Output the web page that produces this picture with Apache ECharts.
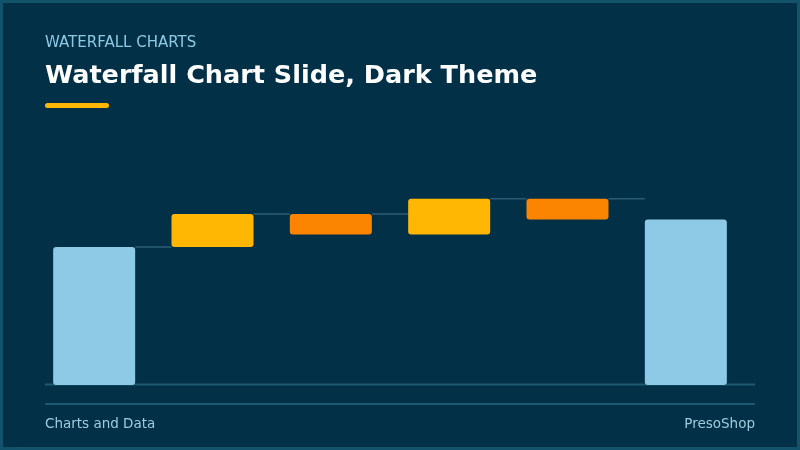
<!DOCTYPE html>
<html>
  <head>
    <meta charset="utf-8" />
    <title>Waterfall Chart Slide, Dark Theme</title>
    <script src="https://cdn.jsdelivr.net/npm/echarts@6/dist/echarts.min.js"></script>
    <style>
      html, body { margin: 0; padding: 0; background: #023047; }
      #main { width: 800px; height: 450px; }
    </style>
  </head>
  <body>
    <div id="main"></div>
  </body>
  <script>
    // waterfall data
    var categories = ['Start', 'Step 1', 'Step 2', 'Step 3', 'Step 4', 'End']
    var startValue = 100
    var changes = [24, -15, 26, -15]
    var endValue = 120

    var BLUE = '#8ecae6'
    var YELLOW = '#ffb703'
    var ORANGE = '#fb8500'
    var FONT = '"DejaVu Sans", Inter, sans-serif'

    // build [index, low, high, color] rows
    var barData = []
    var linkData = []
    var level = startValue
    barData.push([0, 0, startValue, BLUE])
    for (var i = 0; i < changes.length; i++) {
      var next = level + changes[i]
      barData.push([i + 1, Math.min(level, next), Math.max(level, next), changes[i] >= 0 ? YELLOW : ORANGE])
      level = next
    }
    barData.push([categories.length - 1, 0, endValue, BLUE])
    // connectors sit at the top of each bar
    for (var j = 0; j < barData.length - 1; j++) {
      linkData.push([j, barData[j][2]])
    }

    var BAR_W = 82

    var chart = echarts.init(document.getElementById('main'))
    var option = {
      backgroundColor: '#023047',
      animation: false,
      grid: { left: 35, right: 55, top: 178, bottom: 65 },
      xAxis: {
        type: 'category',
        data: categories,
        axisLine: { show: false },
        axisTick: { show: false },
        axisLabel: { show: false },
      },
      yAxis: {
        type: 'value',
        min: 0,
        max: 150,
        splitLine: { show: false },
        axisLabel: { show: false },
        axisLine: { show: false },
        axisTick: { show: false },
      },
      graphic: [
        {
          type: 'rect',
          shape: { x: 1.5, y: 1.5, width: 797, height: 447 },
          style: { fill: 'transparent', stroke: '#12536b', lineWidth: 3 },
          silent: true,
        },
        {
          type: 'text', left: 45, top: 36,
          style: { text: 'WATERFALL CHARTS', fill: '#8ecae6', font: '400 15px ' + FONT },
        },
        {
          type: 'text', left: 45, top: 63,
          style: { text: 'Waterfall Chart Slide, Dark Theme', fill: '#ffffff', font: '700 25.5px ' + FONT },
        },
        {
          type: 'rect',
          shape: { x: 45, y: 103, width: 64, height: 5, r: 2.5 },
          style: { fill: '#ffb703' },
        },
        {
          type: 'line', z: -1,
          shape: { x1: 45, y1: 384.5, x2: 755, y2: 384.5 },
          style: { stroke: '#1c5a73', lineWidth: 2 },
        },
        {
          type: 'line',
          shape: { x1: 45, y1: 404, x2: 755, y2: 404 },
          style: { stroke: '#1c5a73', lineWidth: 2 },
        },
        {
          type: 'text', left: 45, top: 417,
          style: { text: 'Charts and Data', fill: '#9fcbe0', font: '400 13.5px ' + FONT },
        },
        {
          type: 'text', right: 45, top: 417,
          style: { text: 'PresoShop', fill: '#9fcbe0', font: '400 13.5px ' + FONT },
        },
      ],
      series: [
        {
          type: 'custom',
          name: 'connectors',
          z: 1,
          data: linkData,
          renderItem: function (params, api) {
            var idx = api.value(0)
            var a = api.coord([idx, api.value(1)])
            var b = api.coord([idx + 1, api.value(1)])
            return {
              type: 'line',
              shape: { x1: a[0] + BAR_W / 2, y1: a[1], x2: b[0] - BAR_W / 2, y2: b[1] },
              style: { stroke: '#2c5b74', lineWidth: 1.5 },
            }
          },
        },
        {
          type: 'custom',
          name: 'bars',
          z: 2,
          data: barData,
          renderItem: function (params, api) {
            var idx = api.value(0)
            var low = api.coord([idx, api.value(1)])
            var high = api.coord([idx, api.value(2)])
            return {
              type: 'rect',
              shape: { x: low[0] - BAR_W / 2, y: high[1], width: BAR_W, height: low[1] - high[1], r: 3 },
              style: { fill: barData[params.dataIndex][3] },
            }
          },
        },
      ],
    }
    option && chart.setOption(option)
  </script>
</html>
